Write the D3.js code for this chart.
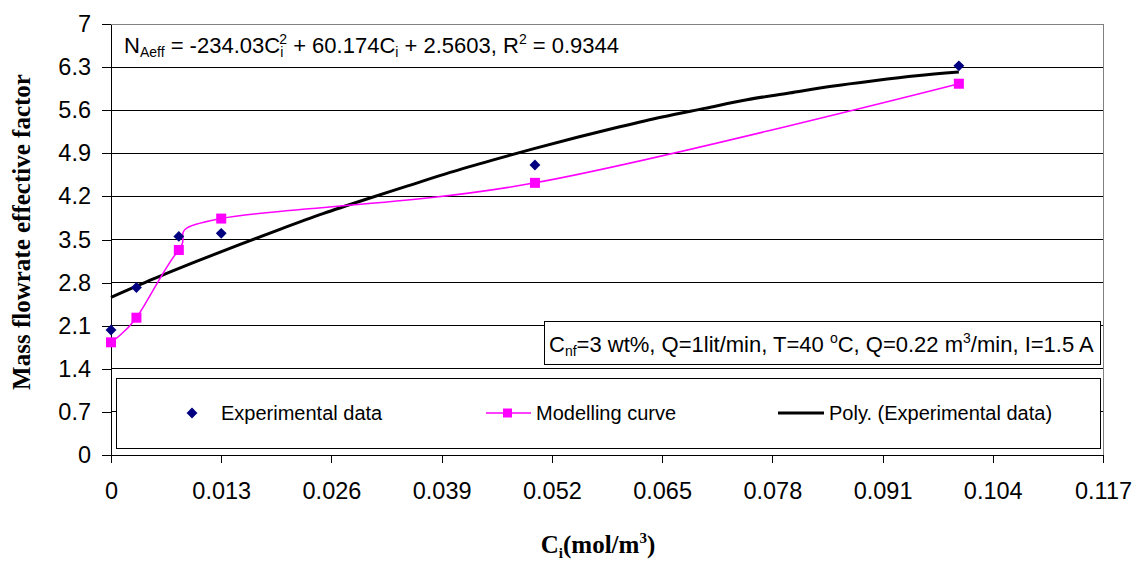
<!DOCTYPE html>
<html>
<head>
<meta charset="utf-8">
<script src="https://cdn.jsdelivr.net/npm/d3@7"></script>
<style>
  body { margin: 0; background: #fff; }
  svg text { font-family: "Liberation Sans", Arial, sans-serif; }
  .serif { font-family: "Liberation Serif", "Times New Roman", serif !important; font-weight: bold; }
</style>
</head>
<body>
<div id="chart"></div>
<script>
// values
const expX = [0, 0.003, 0.008, 0.013, 0.05, 0.1];
const expY = [2.03, 2.72, 3.55, 3.60, 4.71, 6.32];
const modX = [0, 0.003, 0.008, 0.013, 0.05, 0.1];
const modY = [1.83, 2.23, 3.33, 3.84, 4.42, 6.03];
// trend line (Poly.)
const polyX = [0, 0.005, 0.01, 0.015, 0.02, 0.025, 0.03, 0.035, 0.04, 0.045, 0.05,
               0.055, 0.06, 0.065, 0.07, 0.075, 0.08, 0.085, 0.09, 0.095, 0.1];
const polyY = [2.56, 2.86, 3.14, 3.41, 3.67, 3.92, 4.15, 4.37, 4.59, 4.79, 4.98,
               5.16, 5.33, 5.49, 5.63, 5.77, 5.88, 5.99, 6.08, 6.16, 6.22];
const xTicks = [0, 0.013, 0.026, 0.039, 0.052, 0.065, 0.078, 0.091, 0.104, 0.117];
const yTicks = [0, 0.7, 1.4, 2.1, 2.8, 3.5, 4.2, 4.9, 5.6, 6.3, 7];

const width = 1136, height = 562;
const margin = { top: 24, right: 33, bottom: 107, left: 111 };

const svg = d3.select('#chart').append('svg')
    .attr('width', width)
    .attr('height', height);

const x = d3.scaleLinear().domain([0, 0.117]).range([margin.left, width - margin.right]);
const y = d3.scaleLinear().domain([0, 7]).range([height - margin.bottom, margin.top]);

// gridlines
svg.append('g')
    .selectAll('line')
    .data(yTicks.slice(1, -1))
    .join('line')
    .attr('x1', x(0)).attr('x2', x(0.117))
    .attr('y1', d => y(d)).attr('y2', d => y(d))
    .attr('stroke', '#000').attr('stroke-width', 1)
    .attr('shape-rendering', 'crispEdges');

// plot frame
svg.append('rect')
    .attr('x', x(0)).attr('y', y(7))
    .attr('width', x(0.117) - x(0)).attr('height', y(0) - y(7))
    .attr('fill', 'none').attr('stroke', '#808080')
    .attr('shape-rendering', 'crispEdges');

// axes
const xAxis = svg.append('g')
    .attr('transform', `translate(0,${y(0)})`)
    .call(d3.axisBottom(x).tickValues(xTicks).tickFormat(d => String(d))
        .tickSize(8).tickPadding(19).tickSizeOuter(0));
const yAxis = svg.append('g')
    .attr('transform', `translate(${x(0)},0)`)
    .call(d3.axisLeft(y).tickValues(yTicks).tickFormat(d => String(d))
        .tickSize(9).tickPadding(11).tickSizeOuter(0));
[xAxis, yAxis].forEach(a => {
    a.select('.domain').attr('stroke', '#000').attr('shape-rendering', 'crispEdges');
    a.selectAll('.tick line').attr('stroke', '#000').attr('shape-rendering', 'crispEdges');
    a.selectAll('text').attr('font-size', 23.5).attr('fill', '#000')
        .style('font-family', '"Liberation Sans", Arial, sans-serif');
});

// poly trend line
svg.append('path')
    .datum(polyX.map((d, i) => [d, polyY[i]]))
    .attr('d', d3.line().x(d => x(d[0])).y(d => y(d[1])).curve(d3.curveMonotoneX))
    .attr('fill', 'none').attr('stroke', '#000').attr('stroke-width', 3);

// modelling curve (smoothed)
svg.append('path')
    .datum(modX.map((d, i) => [d, modY[i]]))
    .attr('d', d3.line().x(d => x(d[0])).y(d => y(d[1])).curve(d3.curveCardinal.tension(0)))
    .attr('fill', 'none').attr('stroke', '#ff00ff').attr('stroke-width', 1.5);

svg.append('g')
    .selectAll('rect')
    .data(modX.map((d, i) => [d, modY[i]]))
    .join('rect')
    .attr('x', d => x(d[0]) - 5).attr('y', d => y(d[1]) - 5)
    .attr('width', 10).attr('height', 10)
    .attr('fill', '#ff00ff');

const diamond = d3.symbol().type(d3.symbolDiamond2).size(75);
svg.append('g')
    .selectAll('path')
    .data(expX.map((d, i) => [d, expY[i]]))
    .join('path')
    .attr('d', diamond)
    .attr('transform', d => `translate(${x(d[0])},${y(d[1])})`)
    .attr('fill', '#000080');

// equation
const eq = svg.append('text').attr('x', 124).attr('y', 53).attr('font-size', 22);
eq.append('tspan').text('N');
eq.append('tspan').attr('font-size', 14).attr('dy', 4).text('Aeff');
eq.append('tspan').attr('dy', -4).text(' = -234.03C');
eq.append('tspan').attr('font-size', 14).attr('dy', 4).text('i');
eq.append('tspan').attr('font-size', 14).attr('dx', -4).attr('dy', -13).text('2');
eq.append('tspan').attr('dy', 9).text(' + 60.174C');
eq.append('tspan').attr('font-size', 14).attr('dy', 4).text('i');
eq.append('tspan').attr('dy', -4).text(' + 2.5603, R');
eq.append('tspan').attr('font-size', 14).attr('dy', -9).text('2');
eq.append('tspan').attr('dy', 9).text(' = 0.9344');

// conditions box
svg.append('rect')
    .attr('x', 544).attr('y', 321).attr('width', 556).attr('height', 43)
    .attr('fill', '#fff').attr('stroke', '#000').attr('shape-rendering', 'crispEdges');
const cond = svg.append('text').attr('x', 549).attr('y', 352).attr('font-size', 22);
cond.append('tspan').text('C');
cond.append('tspan').attr('font-size', 14).attr('dy', 4).text('nf');
cond.append('tspan').attr('dy', -4).text('=3 wt%, Q=1lit/min, T=40 ');
cond.append('tspan').attr('font-size', 14).attr('dy', -9).text('o');
cond.append('tspan').attr('dy', 9).text('C, Q=0.22 m');
cond.append('tspan').attr('font-size', 14).attr('dy', -9).text('3');
cond.append('tspan').attr('dy', 9).text('/min, I=1.5 A');

// legend
svg.append('rect')
    .attr('x', 116).attr('y', 378).attr('width', 984).attr('height', 70)
    .attr('fill', '#fff').attr('stroke', '#000').attr('shape-rendering', 'crispEdges');
const legY = 413;
svg.append('path').attr('d', diamond)
    .attr('transform', `translate(192,${legY})`).attr('fill', '#000080');
svg.append('text').attr('x', 221).attr('y', legY + 7).attr('font-size', 20).text('Experimental data');
svg.append('line').attr('x1', 486).attr('x2', 531).attr('y1', legY).attr('y2', legY)
    .attr('stroke', '#ff00ff').attr('stroke-width', 1.5);
svg.append('rect').attr('x', 503).attr('y', legY - 4.5).attr('width', 9).attr('height', 9).attr('fill', '#ff00ff');
svg.append('text').attr('x', 536).attr('y', legY + 7).attr('font-size', 20).text('Modelling curve');
svg.append('line').attr('x1', 778).attr('x2', 824).attr('y1', legY).attr('y2', legY)
    .attr('stroke', '#000').attr('stroke-width', 3);
svg.append('text').attr('x', 829).attr('y', legY + 7).attr('font-size', 20).text('Poly. (Experimental data)');

// axis titles
svg.append('text').attr('class', 'serif')
    .attr('transform', 'translate(30,232) rotate(-90)')
    .attr('text-anchor', 'middle').attr('font-size', 25)
    .text('Mass flowrate effective factor');
const xt = svg.append('text').attr('class', 'serif')
    .attr('x', 598).attr('y', 553).attr('text-anchor', 'middle').attr('font-size', 25);
xt.append('tspan').text('C');
xt.append('tspan').attr('font-size', 15).attr('dy', 5).text('i');
xt.append('tspan').attr('dy', -5).text('(mol/m');
xt.append('tspan').attr('font-size', 15).attr('dy', -10).text('3');
xt.append('tspan').attr('dy', 10).text(')');
</script>
</body>
</html>
